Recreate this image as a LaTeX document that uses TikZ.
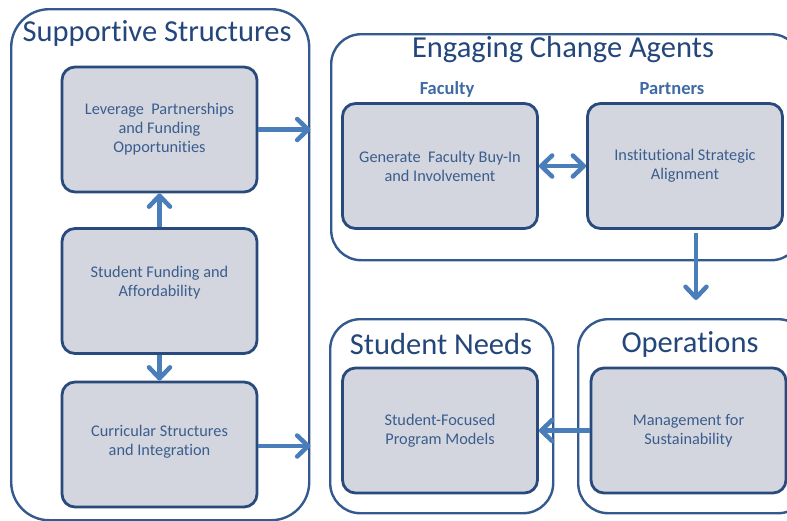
\documentclass[tikz,border=0pt]{standalone}
\usepackage{fontspec}
\setmainfont{Carlito}[Ligatures=NoCommon]
\usetikzlibrary{arrows.meta,positioning}
\definecolor{framec}{HTML}{34598E}
\definecolor{boxfill}{HTML}{D3D6DE}
\definecolor{boxline}{HTML}{284A7C}
\definecolor{arrowc}{HTML}{4A7EBB}
\definecolor{titlec}{HTML}{23467B}
\definecolor{textc}{HTML}{3A5D8E}
\definecolor{headc}{HTML}{3E6AA5}

\begin{document}
\begin{tikzpicture}[x=1pt,y=-1pt,group/.style={draw=framec,line width=2.4pt,rounded corners=38pt,anchor=north west,inner sep=0pt}, grouptitle/.style={text=titlec,font=\fontsize{30.5}{36}\selectfont,inner sep=0pt}, headlabel/.style={text=headc,font=\fontsize{18.5}{22}\selectfont\bfseries,inner sep=0pt}, item/.style={draw=boxline,fill=boxfill,line width=2.8pt,rounded corners=13pt,minimum width=195pt,minimum height=125pt,inner sep=0pt,align=center,text=textc,font=\fontsize{16.3}{19}\selectfont}, edge/.style={draw=arrowc,line width=4.5pt,-{Straight Barb[length=11pt,width=21pt,round]}}, both_edge/.style={draw=arrowc,line width=4.5pt,{Straight Barb[length=11pt,width=21pt,round]}-{Straight Barb[length=11pt,width=21pt,round]}}]
\useasboundingbox (0,0) rectangle (787,520);
% frames
\node(supp)[group,minimum width=298pt,minimum height=511pt] at (10,8){};
\node(engage)[group,minimum width=470pt,minimum height=226pt,rounded corners=30pt] at (330,33){};
\node(needs)[group,minimum width=223pt,minimum height=194pt,rounded corners=30pt] at (329,318){};
\node(ops)[group,minimum width=230pt,minimum height=194pt,rounded corners=30pt] at (577,318){};
\node(supptitle)[grouptitle] at (157,33){Supportive Structures};
\node(engagetitle)[grouptitle] at (563,50){Engaging Change Agents};
\node(needstitle)[grouptitle] at (441,344){Student Needs};
\node(opstitle)[grouptitle] at (690,344){Operations};
\node(faclabel)[headlabel] at (447,89){Faculty};
\node(partlabel)[headlabel] at (672,89){Partners};
% boxes
\node(lever)[item] at (159.5,129.5){Leverage~ Partnerships\\and Funding\\Opportunities};
\node(fund)[item] at (159.5,291){Student Funding and\\Affordability\\[1pt]};
\node(curr)[item] at (159.5,444.5){Curricular Structures\\and Integration\\[-11pt]};
\node(faculty)[item] at (440,166){Generate~ Faculty Buy-In\\and Involvement};
\node(partners)[item] at (685,166){Institutional Strategic\\Alignment};
\node(sfocus)[item] at (440,430.5){Student-Focused\\Program Models};
\node(mgmt)[item] at (688.5,430.5){Management for\\Sustainability};
% connectors
\draw [edge] (lever.east) to (lever.east -| supp.east);
\draw [edge] ([yshift=-1.5pt]curr.east) to ([yshift=-1.5pt]curr.east -| supp.east);
\draw [edge] (fund.north) to (lever.south);
\draw [edge] (fund.south) to (curr.north);
\draw [both_edge] (faculty.east) to (partners.west);
\draw [edge] ([xshift=11pt,yshift=-3pt]partners.south) to ([xshift=11pt,yshift=18pt]partners.south |- ops.north);
\draw [edge] (mgmt.west) to (sfocus.east);
\end{tikzpicture}
\end{document}
